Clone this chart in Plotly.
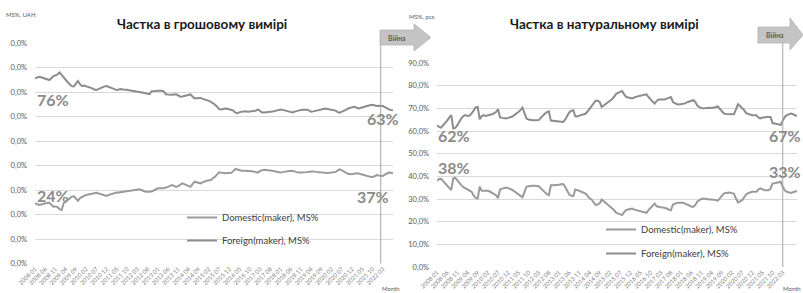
import plotly.graph_objects as go

W, H = 803, 293

# ---------------- data ----------------
_all_months = [f"{y} {m:02d}" for y in range(2008, 2023) for m in range(1, 13)]
months_uah = _all_months[:176]   # 2008 01 .. 2022 08
months_pcs = _all_months[:178]   # 2008 01 .. 2022 10
tick_labels = _all_months[0:171:5]  # 2008 01, 2008 06, ... 2022 03

uah_foreign = [
    75.6, 75.9, 76.2, 76.0, 75.7, 75.6, 75.2, 74.9, 75.6, 76.5,
    76.8, 77.2, 78.0, 77.0, 75.6, 74.8, 74.0, 73.1, 72.4, 72.3,
    73.4, 74.5, 73.2, 72.4, 72.6, 72.4, 71.9, 71.8, 71.5, 71.0,
    70.8, 71.2, 71.6, 72.0, 72.3, 72.4, 72.1, 71.7, 71.5, 71.0,
    70.8, 71.0, 71.2, 71.0, 71.1, 70.9, 70.7, 70.6, 70.4, 70.3,
    70.1, 70.0, 69.8, 69.7, 69.5, 69.3, 69.1, 70.3, 70.5, 70.4,
    70.5, 70.6, 70.5, 70.2, 69.1, 69.0, 68.8, 68.9, 69.0, 69.1,
    68.6, 68.1, 68.2, 68.4, 68.3, 68.6, 69.0, 68.2, 67.4, 67.5,
    67.7, 67.6, 67.2, 67.0, 66.7, 66.4, 66.0, 65.5, 64.8, 64.0,
    63.0, 62.9, 63.2, 63.3, 63.2, 63.0, 62.9, 62.4, 61.6, 61.4,
    61.8, 62.0, 61.9, 62.1, 62.0, 62.1, 62.0, 62.2, 62.4, 62.9,
    62.1, 61.6, 61.6, 61.8, 61.7, 61.9, 62.0, 62.2, 62.5, 62.8,
    62.9, 62.7, 62.5, 62.2, 62.0, 61.8, 61.7, 62.0, 62.3, 62.6,
    62.7, 62.8, 62.9, 62.8, 62.4, 62.0, 62.1, 62.3, 62.6, 62.8,
    63.0, 63.2, 63.3, 63.1, 62.9, 62.7, 62.6, 62.4, 61.8, 61.6,
    62.0, 62.3, 62.7, 63.3, 63.6, 63.8, 64.0, 63.7, 63.3, 63.5,
    63.8, 64.0, 64.2, 64.5, 64.7, 64.8, 64.5, 64.3, 64.4, 64.3,
    64.3, 63.8, 63.3, 62.9, 62.7, 62.6,
]

uah_domestic = [
    24.6, 24.2, 23.9, 24.1, 24.4, 24.6, 24.7, 24.8, 24.0, 23.2,
    23.3, 23.0, 22.2, 21.8, 24.6, 25.3, 25.9, 26.7, 27.3, 27.4,
    26.5, 25.6, 26.7, 27.3, 27.6, 28.0, 28.1, 28.3, 28.4, 28.7,
    28.9, 28.6, 28.2, 28.0, 27.7, 27.6, 28.0, 28.3, 28.6, 28.8,
    29.0, 29.0, 29.1, 29.2, 29.3, 29.4, 29.5, 29.6, 29.7, 29.9,
    30.1, 30.3, 30.0, 29.6, 29.3, 29.3, 29.3, 29.4, 29.8, 30.3,
    30.7, 30.7, 30.6, 30.7, 31.0, 31.3, 31.6, 32.0, 31.7, 31.3,
    31.6, 32.2, 32.7, 32.4, 32.0, 31.8, 31.3, 32.4, 33.4, 33.2,
    32.9, 32.7, 33.2, 33.6, 33.8, 34.0, 34.1, 34.8, 35.4, 36.4,
    37.2, 37.1, 36.8, 36.8, 36.9, 37.0, 37.0, 37.8, 38.6, 38.4,
    38.1, 37.9, 37.9, 37.9, 37.9, 37.8, 37.7, 37.5, 37.3, 37.1,
    37.8, 38.2, 38.3, 38.2, 38.2, 38.0, 37.9, 37.7, 37.5, 37.3,
    37.2, 37.3, 37.5, 37.7, 37.8, 37.9, 37.8, 37.5, 37.2, 37.1,
    37.1, 37.1, 37.1, 37.3, 37.5, 37.7, 37.6, 37.4, 37.3, 37.2,
    37.0, 36.9, 36.8, 36.9, 37.0, 37.1, 37.1, 37.4, 38.0, 38.4,
    38.0, 37.5, 37.0, 36.6, 36.4, 36.5, 36.6, 36.8, 36.8, 36.5,
    36.2, 36.1, 35.8, 35.6, 35.4, 35.3, 35.6, 36.1, 35.9, 35.7,
    35.7, 36.3, 36.8, 37.1, 37.0, 36.8,
]

pcs_foreign = [
    62.6, 61.8, 61.5, 62.4, 63.4, 64.6, 65.9, 67.0, 61.1, 61.4,
    62.6, 64.4, 65.6, 66.6, 67.0, 66.6, 66.8, 67.7, 69.2, 70.4,
    70.6, 65.2, 66.6, 67.0, 66.6, 66.8, 67.0, 67.4, 67.8, 68.4,
    69.6, 66.0, 65.8, 65.7, 65.5, 65.8, 66.0, 66.4, 67.0, 67.6,
    68.4, 69.2, 70.3, 68.0, 65.5, 65.1, 64.8, 64.8, 64.7, 64.8,
    64.8, 65.8, 66.9, 67.6, 68.3, 68.7, 64.6, 64.5, 64.5, 64.4,
    64.3, 64.1, 64.0, 65.0, 66.6, 68.2, 68.9, 69.2, 66.5, 66.4,
    66.8, 67.0, 67.3, 67.6, 68.6, 69.8, 70.6, 71.9, 73.4, 73.4,
    72.8, 70.6, 71.3, 71.8, 72.4, 73.2, 74.0, 75.0, 76.3, 76.8,
    77.1, 77.6, 76.2, 75.1, 74.8, 74.5, 74.4, 74.8, 75.2, 75.4,
    75.6, 75.8, 76.0, 76.2, 75.0, 73.8, 73.0, 72.1, 73.3, 73.9,
    73.8, 73.9, 73.9, 74.3, 74.8, 75.0, 72.8, 72.3, 71.8, 71.7,
    71.8, 71.8, 72.2, 72.7, 73.0, 73.3, 73.6, 72.8, 71.2, 70.5,
    70.1, 69.9, 70.1, 70.3, 70.3, 70.2, 70.3, 70.5, 70.9, 70.0,
    68.9, 67.8, 67.5, 67.4, 67.3, 67.3, 67.4, 69.5, 71.8, 71.0,
    70.3, 69.2, 67.9, 67.6, 67.2, 67.0, 67.0, 67.0, 66.0, 65.6,
    65.9, 66.2, 66.2, 66.2, 66.2, 63.5, 63.3, 63.1, 63.0, 62.7,
    64.6, 66.2, 67.0, 67.4, 67.7, 67.4, 67.0, 66.6,
]

pcs_domestic = [
    38.0, 38.8, 38.9, 37.8, 36.9, 36.0, 35.0, 33.9, 39.1, 39.3,
    38.2, 36.9, 36.0, 35.2, 34.7, 34.3, 34.0, 33.2, 31.6, 30.5,
    30.2, 35.4, 33.6, 33.6, 33.9, 33.6, 33.3, 32.8, 32.3, 31.7,
    30.4, 34.2, 34.6, 34.8, 35.1, 34.8, 34.5, 34.0, 33.4, 32.8,
    32.2, 31.4, 30.7, 33.0, 35.4, 35.6, 35.8, 35.8, 35.8, 35.8,
    35.6, 34.8, 33.9, 33.0, 32.1, 31.7, 36.1, 36.1, 36.1, 36.2,
    36.3, 36.5, 36.6, 35.4, 33.6, 32.0, 31.5, 31.3, 34.2, 34.0,
    33.6, 33.2, 32.9, 32.4, 31.5, 30.3, 29.8, 28.5, 27.3, 27.6,
    28.1, 29.8, 29.0, 28.4, 27.8, 27.0, 26.2, 25.2, 24.0, 23.7,
    23.4, 22.9, 24.2, 25.1, 25.4, 25.7, 25.8, 25.3, 25.1, 24.9,
    24.7, 24.5, 24.2, 23.9, 25.1, 26.2, 27.2, 28.0, 26.8, 26.5,
    26.4, 26.3, 26.2, 25.8, 25.3, 25.0, 27.6, 28.0, 28.3, 28.4,
    28.4, 28.4, 28.0, 27.5, 27.0, 26.7, 26.5, 27.4, 28.9, 29.6,
    30.0, 30.2, 30.0, 29.8, 29.8, 29.8, 29.8, 29.6, 29.2, 30.2,
    31.4, 32.4, 32.7, 32.9, 32.9, 32.6, 32.4, 30.2, 28.4, 29.0,
    29.5, 30.7, 32.0, 32.6, 33.0, 33.2, 33.2, 33.2, 34.2, 34.7,
    34.3, 33.9, 33.9, 33.9, 34.6, 36.9, 37.0, 37.2, 37.4, 37.6,
    35.4, 33.8, 33.2, 32.9, 32.7, 33.0, 33.3, 33.6,
]

y_ticks = list(range(0, 100, 10))
y_ticktext_uah = ["0,0%" for _ in y_ticks]          # left labels are cut off in the source
y_ticktext_pcs = [f"{v},0%" for v in y_ticks]

titles = ["Частка в грошовому вимірі", "Частка в натуральному вимірі"]
units = ["MS%, UAH", "MS%, pcs"]
series_names = ["Domestic(maker), MS%", "Foreign(maker), MS%"]
war_label = "Війна"
war_month_uah = "2022 02"
war_month_pcs = "2022 03"
edge_labels_uah = ["76%", "63%", "24%", "37%"]
edge_labels_pcs = ["62%", "67%", "38%", "33%"]

# ---------------- helpers ----------------
def px(x):
    return x / W

def py(y):
    return 1 - y / H

FONT = "Lato, 'Open Sans', sans-serif"
COL_TOP = "#8c8c8c"
COL_BOT = "#9a9a9a"
GRID = "#d9d9d9"

fig = go.Figure()

fig.add_trace(go.Scatter(x=months_uah, y=uah_domestic, name=series_names[0], mode="lines",
                         line=dict(color=COL_BOT, width=2), xaxis="x", yaxis="y",
                         legend="legend", legendgroup="a"))
fig.add_trace(go.Scatter(x=months_uah, y=uah_foreign, name=series_names[1], mode="lines",
                         line=dict(color=COL_TOP, width=2), xaxis="x", yaxis="y",
                         legend="legend", legendgroup="b"))
fig.add_trace(go.Scatter(x=months_pcs, y=pcs_domestic, name=series_names[0], mode="lines",
                         line=dict(color=COL_BOT, width=2), xaxis="x2", yaxis="y2",
                         legend="legend2", legendgroup="c"))
fig.add_trace(go.Scatter(x=months_pcs, y=pcs_foreign, name=series_names[1], mode="lines",
                         line=dict(color=COL_TOP, width=2), xaxis="x2", yaxis="y2",
                         legend="legend2", legendgroup="d"))

xcommon = dict(type="category", tickvals=tick_labels, ticktext=tick_labels, tickangle=-45,
               tickfont=dict(size=6, color="#808080", family=FONT), showgrid=False,
               zeroline=False, showline=False, ticks="", fixedrange=True, automargin=False)
ycommon = dict(range=[0, 90.01], tickvals=y_ticks, showgrid=True, gridcolor=GRID, gridwidth=1,
               zeroline=False, showline=False, ticks="", automargin=False,
               tickfont=dict(size=7.5, color="#595959", family=FONT), ticklabelstandoff=7)

fig.update_layout(
    template="plotly_white",
    width=W, height=H,
    margin=dict(l=0, r=0, t=0, b=0, autoexpand=False),
    paper_bgcolor="white", plot_bgcolor="white",
    font=dict(family=FONT),
    xaxis=dict(domain=[px(35), px(393)], range=[0, len(months_uah) - 1], anchor="y", **xcommon),
    yaxis=dict(domain=[py(263.5), py(43)], ticktext=y_ticktext_uah, anchor="x", **ycommon),
    xaxis2=dict(domain=[px(437), px(797)], range=[0, len(months_pcs) - 1], anchor="y2", **xcommon),
    yaxis2=dict(domain=[py(267), py(63)], ticktext=y_ticktext_pcs, anchor="x2", **ycommon),
    legend=dict(x=px(182), y=py(203), xanchor="left", yanchor="top", bgcolor="rgba(0,0,0,0)",
                font=dict(size=9.5, color="#404040", family=FONT), tracegroupgap=4,
                traceorder="grouped"),
    legend2=dict(x=px(601), y=py(215), xanchor="left", yanchor="top", bgcolor="rgba(0,0,0,0)",
                 font=dict(size=9.5, color="#404040", family=FONT), tracegroupgap=5,
                 traceorder="grouped"),
    showlegend=True,
)

shapes = []
annotations = []

# war lines
shapes.append(dict(type="line", xref="x", yref="paper",
                   x0=months_uah.index(war_month_uah), x1=months_uah.index(war_month_uah),
                   y0=py(263.5), y1=py(44), line=dict(color="#a6a6a6", width=1)))
shapes.append(dict(type="line", xref="x2", yref="paper",
                   x0=months_pcs.index(war_month_pcs), x1=months_pcs.index(war_month_pcs),
                   y0=py(267), y1=py(43), line=dict(color="#a6a6a6", width=1)))

def arrow_path(x0, xb, xt, yt, yb, yht, yhb):
    ym = (yt + yb) / 2
    pts = [(x0, yt), (xb, yt), (xb, yht), (xt, ym), (xb, yhb), (xb, yb), (x0, yb)]
    d = "M" + " L".join(f"{px(a):.5f},{py(b):.5f}" for a, b in pts) + " Z"
    return d

shapes.append(dict(type="path", xref="paper", yref="paper",
                   path=arrow_path(380, 414, 431, 30, 45, 24, 51),
                   fillcolor="#c4c4c4", line=dict(color="#b3b3b3", width=0.8)))
shapes.append(dict(type="path", xref="paper", yref="paper",
                   path=arrow_path(758, 790, 803, 27, 43, 18, 50),
                   fillcolor="#c4c4c4", line=dict(color="#b3b3b3", width=0.8)))

def ann(x, y, text, size, color, xanchor="center", bold=False):
    annotations.append(dict(x=px(x), y=py(y), text=f"<b>{text}</b>" if bold else text,
                            showarrow=False, xref="paper", yref="paper",
                            xanchor=xanchor, yanchor="middle",
                            font=dict(size=size, color=color, family=FONT)))

ann(397, 37.5, war_label, 7, "#404040")
ann(775, 35, war_label, 7, "#404040")

# titles
ann(202, 24, titles[0], 13.5, "#1a1a1a", bold=True)
ann(604, 24, titles[1], 13.5, "#1a1a1a", bold=True)
# unit labels
ann(4, 15, units[0], 6, "#595959", xanchor="left")
ann(407, 17, units[1], 6, "#595959", xanchor="left")
# Month labels
ann(391, 288, "Month", 6, "#595959")
ann(792, 288, "Month", 6, "#595959")

# edge percentage labels
pos_uah = [(35, 100, "left"), (401, 118, "right"), (35, 195, "left"), (391, 196, "right")]
pos_pcs = [(436, 135, "left"), (803, 135, "right"), (436, 167, "left"), (803, 171, "right")]
for txt, (x, y, anc) in list(zip(edge_labels_uah, pos_uah)) + list(zip(edge_labels_pcs, pos_pcs)):
    ann(x, y, txt, 16, "#8a8a8a", xanchor=anc, bold=True)

fig.update_layout(shapes=shapes, annotations=annotations)

fig.write_html("out.html", config={"displayModeBar": False},
               post_script="document.body.style.margin='0';document.body.style.overflow='hidden';")
